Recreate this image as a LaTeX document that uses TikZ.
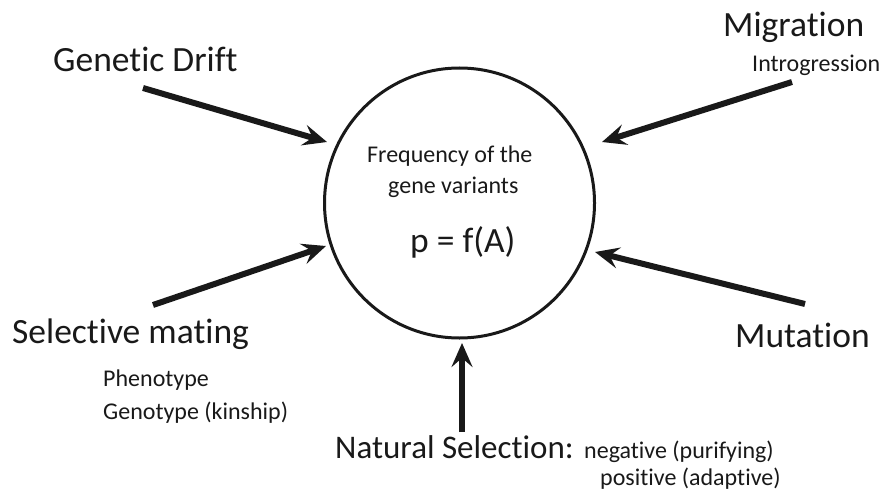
\documentclass[tikz,border=0pt]{standalone}
\usepackage{fontspec}
\setmainfont{Carlito}[Ligatures=NoCommon]
\usetikzlibrary{arrows.meta}
\begin{document}
\begin{tikzpicture}[x=1pt,y=-1pt,
  big/.style={font=\fontsize{35.5}{40}\selectfont, inner sep=0pt, anchor=base west, text=black!90},
  small/.style={font=\fontsize{24}{28}\selectfont, inner sep=0pt, anchor=base west, text=black!90},
  force/.style={line width=6pt, black!90, -{Stealth[length=24pt,width=21pt,inset=9pt]}},
]
\useasboundingbox (0,0) rectangle (890,497);
\node[circle, draw=black!90, line width=3pt, minimum size=270pt, inner sep=0pt] (freq) at (459.5,203) {};
\node[small] (t1) at (367,163) {Frequency of the};
\node[small] (t2) at (388,193) {gene variants};
\node[big] (t3) at (410,252) {p = f(A)};

\node[big] (gd) at (53,72) {Genetic Drift};
\node[big] (mig) at (723,37) {Migration};
\node[small] (intro) at (752,72) {Introgression};
\node[big] (sm) at (12,343) {Selective mating};
\node[small] (ph) at (103,386) {Phenotype};
\node[small] (geno) at (103,419) {Genotype (kinship)};
\node[big] (mut) at (735,347) {Mutation};
\node[big, font=\fontsize{33}{38}\selectfont] (ns) at (335,458) {Natural Selection:};
\node[small] (neg) at (584,458) {negative (purifying)};
\node[small] (pos) at (600,485) {positive (adaptive)};

\coordinate (gd-s) at (143,88);
\coordinate (gd-e) at (327,142);
\coordinate (mig-s) at (792,82);
\coordinate (mig-e) at (602,142);
\coordinate (sm-s) at (153,305);
\coordinate (sm-e) at (326,246);
\coordinate (mut-s) at (805,304);
\coordinate (mut-e) at (595,252);
\coordinate (ns-s) at (462,432);
\coordinate (ns-e) at (462,343);

\draw[force] (gd-s) -- (gd-e);
\draw[force] (mig-s) -- (mig-e);
\draw[force] (sm-s) -- (sm-e);
\draw[force] (mut-s) -- (mut-e);
\draw[force] (ns-s) -- (ns-e);
\end{tikzpicture}
\end{document}
